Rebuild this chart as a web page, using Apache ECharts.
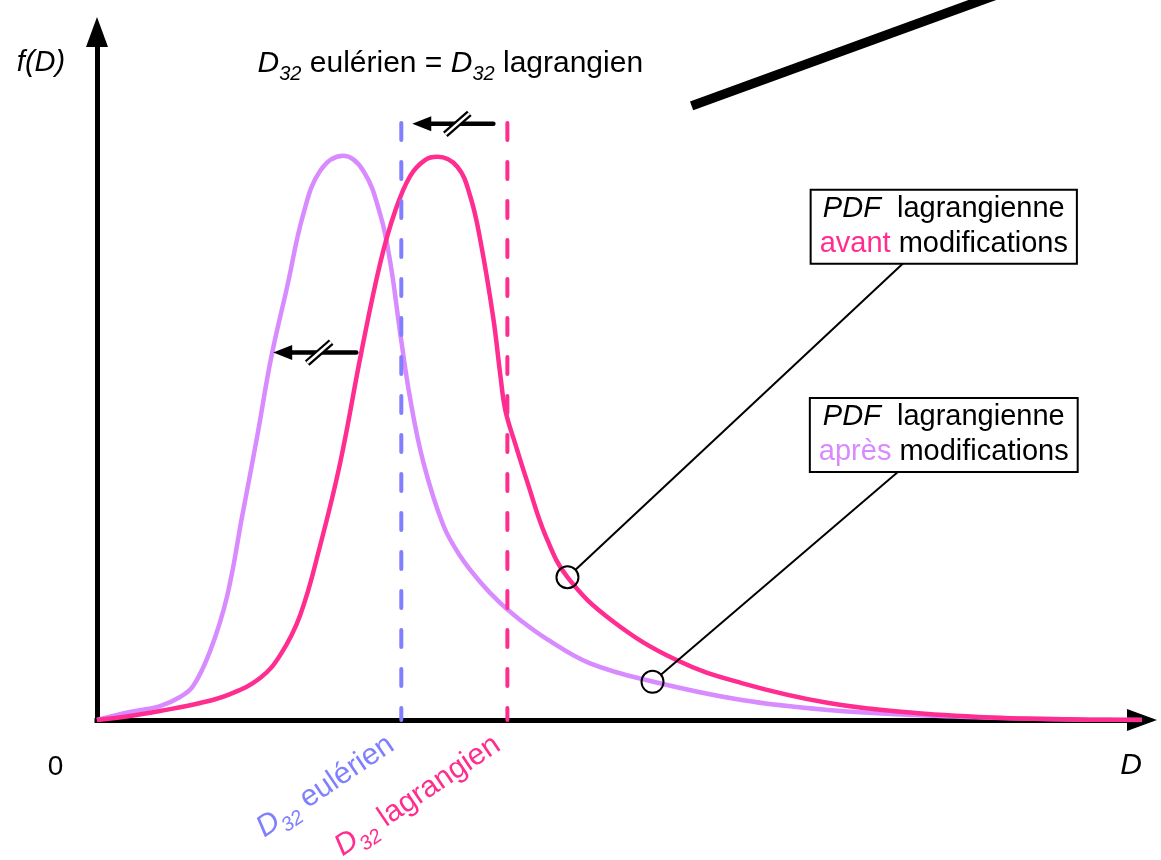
<!DOCTYPE html>
<html>
<head>
<meta charset="utf-8">
<script src="https://cdn.jsdelivr.net/npm/echarts/dist/echarts.min.js"></script>
<style>
  html, body { margin: 0; padding: 0; background: #fff; }
  #chart { width: 1161px; height: 860px; }
</style>
</head>
<body>
<div id="chart"></div>
<script>
// ---- data (arbitrary units: D from 0 to 100, f(D) from 0 to 100) ----
// PDF lagrangienne après modifications
const dAfter = [0, 3.16, 6.03, 7.95, 9.20, 10.82, 12.45, 13.89, 15.33, 16.67, 18.20, 19.73, 21.36, 23.56, 25.48, 27.11, 28.07, 29.02, 29.98, 31.23, 33.14, 34.77, 36.69, 38.60, 40.52, 42.91, 47.13, 53.35, 61.69, 70.02, 78.35, 86.78, 95.11, 100];
const fAfter = [0, 1.16, 2.03, 3.34, 4.93, 10.01, 18.0, 29.61, 41.22, 52.69, 62.99, 73.44, 79.83, 82.01, 79.83, 73.44, 66.47, 56.17, 46.59, 37.45, 28.30, 23.80, 20.03, 16.98, 14.51, 11.90, 8.27, 5.52, 2.90, 1.45, 0.73, 0.29, 0.05, 0];

// PDF lagrangienne avant modifications
const dBefore = [0, 3.16, 6.03, 9.87, 12.74, 15.61, 17.53, 19.44, 21.36, 23.28, 25.29, 27.11, 28.54, 29.98, 31.42, 32.57, 34.48, 35.73, 36.69, 37.93, 38.60, 39.08, 40.04, 41.19, 42.91, 45.02, 49.23, 55.46, 61.69, 70.02, 78.35, 86.78, 95.11, 100];
const fBefore = [0, 0.58, 1.31, 2.47, 3.77, 6.10, 9.43, 15.24, 25.40, 37.45, 53.41, 66.47, 74.02, 79.10, 81.42, 81.86, 80.41, 76.05, 69.67, 58.35, 50.07, 44.99, 40.06, 34.54, 26.85, 20.75, 14.51, 8.71, 5.37, 2.47, 1.02, 0.29, 0.05, 0];

// D32 markers (vertical dashed lines)
const d32Euler = 29.12;
const d32Lagr = 39.27;
const dashTop = 86.79;

// texts
const titleText = '{d|D}{s|32} eulérien = {d|D}{s|32} lagrangien';
const eulerLabel = '{d|D}{s|32} eulérien';
const lagrLabel = '{d|D}{s|32} lagrangien';
const boxAvant = '{i|PDF}  lagrangienne\n{c|avant} modifications';
const boxApres = '{i|PDF}  lagrangienne\n{c|après} modifications';

// ---- styles ----
const PINK = '#FF2D8F';
const PURPLE = '#D88AFF';
const BLUE = '#7F7FFF';
const FONT = '"Liberation Sans", Arial, Helvetica, sans-serif';

const pairs = (ds, fs) => ds.map((d, i) => [d, fs[i]]);

const chart = echarts.init(document.getElementById('chart'), null, { renderer: 'canvas' });

const axisCommon = {
  type: 'value', min: 0, max: 100,
  axisTick: { show: false }, axisLabel: { show: false }, splitLine: { show: false },
  axisLine: { show: true, symbol: ['none', 'triangle'], symbolSize: [22, 30],
    lineStyle: { color: '#000', width: 5, cap: 'square' } }
};

chart.setOption({
  animation: false,
  backgroundColor: '#fff',
  grid: { left: 97, right: 19, top: 32, bottom: 140 },
  xAxis: Object.assign({}, axisCommon),
  yAxis: Object.assign({}, axisCommon),
  series: [
    { type: 'line', name: 'après', data: pairs(dAfter, fAfter), smooth: 0.4,
      symbol: 'none', silent: true, z: 3, lineStyle: { color: PURPLE, width: 4.5 } },
    { type: 'line', name: 'avant', data: pairs(dBefore, fBefore), smooth: 0.4,
      symbol: 'none', silent: true, z: 4, lineStyle: { color: PINK, width: 4.5 } },
    { type: 'line', data: [[d32Euler, dashTop], [d32Euler, 0]], symbol: 'none', silent: true, z: 5,
      lineStyle: { color: BLUE, width: 4, type: [17, 22], cap: 'round' } },
    { type: 'line', data: [[d32Lagr, dashTop], [d32Lagr, 0]], symbol: 'none', silent: true, z: 5,
      lineStyle: { color: PINK, width: 4, type: [17, 22], cap: 'round' } }
  ]
});

// ---- annotations (data units) ----
const annot = {
  title: [33.81, 95.4],
  yName: [-5.36, 95.5],
  zero: [-3.97, -6.82],
  xName: [98.95, -6.68],
  arrowTop: { tip: 30.17, tail: 37.93, f: 86.65, slash: 34.48 },
  arrowMid: { tip: 16.86, tail: 24.81, f: 53.41, slash: 21.26 },
  circleAvant: [45.02, 20.75],
  circleApres: [53.16, 5.55],
  boxAvant: [81.03, 71.7],
  boxApres: [81.03, 41.44],
  leaderAvant: [77.2, 66.47],
  leaderApres: [76.72, 36.14],
  slope: [[56.9, 89.26], [86.02, 105.37]]
};

const P = (d, f) => chart.convertToPixel({ gridIndex: 0 }, [d, f]);
const els = [];

function text(pos, str, extra) {
  els.push(Object.assign({ type: 'text', x: pos[0], y: pos[1], z: 100, silent: true,
    style: Object.assign({ text: str, fontFamily: FONT, fontSize: 30, fill: '#000',
      align: 'center', verticalAlign: 'middle' }, extra.style || {}) }, extra.el || {}));
}

const subRich = (color) => ({
  d: { fontStyle: 'italic', fontSize: 30, fontFamily: FONT, fill: color },
  s: { fontStyle: 'italic', fontSize: 20, fontFamily: FONT, fill: color, padding: [22, 0, 0, 0] }
});

// title
text(P(annot.title[0], annot.title[1]), titleText, { style: { rich: subRich('#000') } });
// axis names
text(P(annot.yName[0], annot.yName[1]), 'f(D)', { style: { fontStyle: 'italic', fontSize: 29 } });
text(P(annot.zero[0], annot.zero[1]), '0', { style: { fontSize: 28 } });
text(P(annot.xName[0], annot.xName[1]), 'D', { style: { fontStyle: 'italic', fontSize: 30 } });

// rotated D32 labels
const rot = 34 * Math.PI / 180;
const pe = P(d32Euler, 0), pl = P(d32Lagr, 0);
text([pe[0] - 10, pe[1] + 22], eulerLabel, { style: { rich: subRich(BLUE), fill: BLUE, align: 'right' }, el: { rotation: rot } });
text([pl[0] - 10, pl[1] + 22], lagrLabel, { style: { rich: subRich(PINK), fill: PINK, align: 'right' }, el: { rotation: rot } });

// arrows with double slash
function arrow(a) {
  const t = P(a.tip, a.f), e = P(a.tail, a.f), s = P(a.slash, a.f);
  els.push({ type: 'line', z: 100, silent: true, shape: { x1: t[0] + 12, y1: t[1], x2: e[0], y2: e[1] },
    style: { stroke: '#000', lineWidth: 4.5, lineCap: 'round' } });
  els.push({ type: 'polygon', z: 100, silent: true,
    shape: { points: [[t[0], t[1]], [t[0] + 19, t[1] - 7.5], [t[0] + 19, t[1] + 7.5]] }, style: { fill: '#000' } });
  const sh = { x1: s[0] - 12, y1: s[1] + 10.5, x2: s[0] + 12, y2: s[1] - 10.5 };
  els.push({ type: 'line', z: 101, silent: true, shape: sh, style: { stroke: '#000', lineWidth: 7 } });
  els.push({ type: 'line', z: 102, silent: true, shape: sh, style: { stroke: '#fff', lineWidth: 2.5 } });
}
arrow(annot.arrowTop);
arrow(annot.arrowMid);

// callout boxes, circles and leader lines
function callout(circ, box, lead, str, color) {
  const c = P(circ[0], circ[1]), b = P(box[0], box[1]), l = P(lead[0], lead[1]);
  const r = 11;
  const dx = l[0] - c[0], dy = l[1] - c[1], len = Math.hypot(dx, dy);
  els.push({ type: 'line', z: 100, silent: true,
    shape: { x1: c[0] + r * dx / len, y1: c[1] + r * dy / len, x2: l[0], y2: l[1] },
    style: { stroke: '#000', lineWidth: 2 } });
  els.push({ type: 'circle', z: 100, silent: true, shape: { cx: c[0], cy: c[1], r: r },
    style: { fill: 'rgba(0,0,0,0)', stroke: '#000', lineWidth: 2 } });
  text(b, str, { style: { fontSize: 29, lineHeight: 35, backgroundColor: '#fff', borderColor: '#000', borderWidth: 2,
    padding: [1, 8, 1, 8],
    rich: { i: { fontStyle: 'italic', fontSize: 29, fontFamily: FONT, fill: '#000' },
            c: { fontSize: 29, fontFamily: FONT, fill: color } } } });
}
callout(annot.circleAvant, annot.boxAvant, annot.leaderAvant, boxAvant, PINK);
callout(annot.circleApres, annot.boxApres, annot.leaderApres, boxApres, PURPLE);

// thick slanted line at the top
const s0 = P(annot.slope[0][0], annot.slope[0][1]), s1 = P(annot.slope[1][0], annot.slope[1][1]);
els.push({ type: 'line', z: 100, silent: true, shape: { x1: s0[0], y1: s0[1], x2: s1[0], y2: s1[1] },
  style: { stroke: '#000', lineWidth: 9.5, lineCap: 'butt' } });

chart.setOption({ graphic: { elements: els } });
</script>
</body>
</html>
